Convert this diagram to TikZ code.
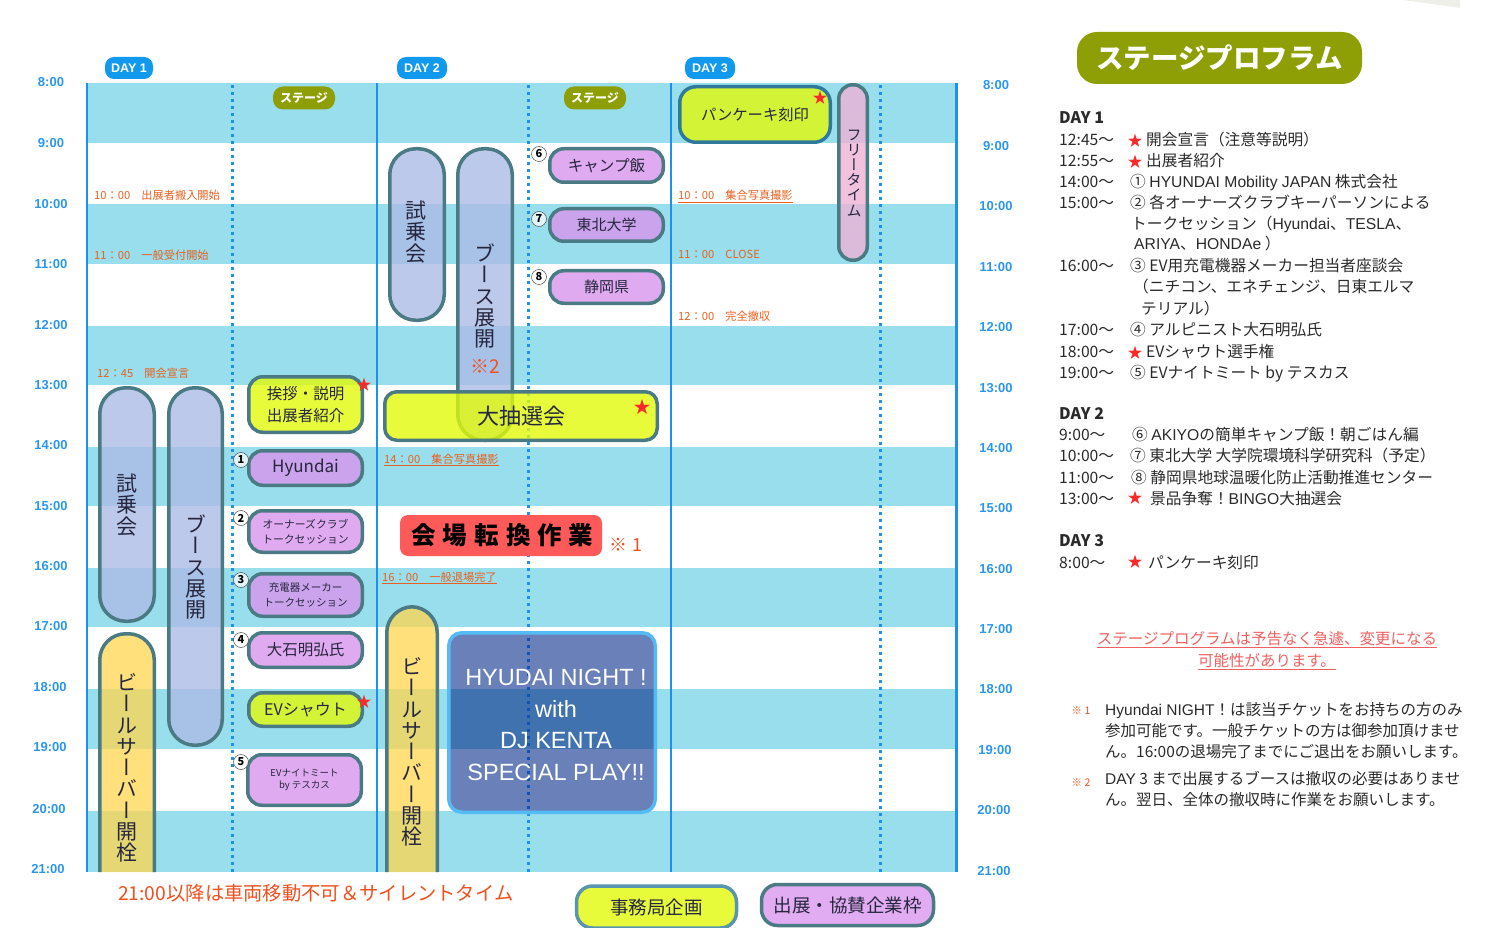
\documentclass[tikz,border=0pt]{standalone}
\usepackage{fontspec}
\setmainfont{Noto Sans CJK JP}
\newfontfamily\jpv[RawFeature=+vert]{Noto Sans CJK JP}
\newfontfamily\lat{Liberation Sans}
\newcommand{\fs}[1]{\fontsize{#1}{#1}\selectfont}
\lineskiplimit=-60pt
\definecolor{bandblue}{HTML}{99DEEC}
\definecolor{lineblue}{HTML}{1E90F0}
\definecolor{timeblue}{HTML}{2A96F0}
\definecolor{daypill}{HTML}{1199EE}
\definecolor{stageolive}{HTML}{8E9E05}
\definecolor{rimteal}{HTML}{4A7A84}
\definecolor{rimblue}{HTML}{2F7A9A}
\definecolor{testblue}{HTML}{ACBBE6}
\definecolor{beeryellow}{HTML}{FFD54D}
\definecolor{lottoyellow}{HTML}{E2FA09}
\definecolor{keyyellow}{HTML}{E8FB3A}
\definecolor{talkpurple}{HTML}{D895EC}
\definecolor{keypurple}{HTML}{E2ACF2}
\definecolor{freepink}{HTML}{EDB2D6}
\definecolor{noteorange}{HTML}{E8601E}
\definecolor{alertred}{HTML}{F0501E}
\definecolor{starred}{HTML}{FA2A2A}
\definecolor{swapred}{HTML}{FF5A5A}
\definecolor{nightblue}{HTML}{072B89}
\definecolor{nightrim}{HTML}{55BBF5}
\definecolor{inkdark}{HTML}{26263E}
\definecolor{bodyink}{HTML}{2A2A2A}
\definecolor{warnpink}{HTML}{F06060}
\definecolor{cornergrey}{HTML}{EFEFEA}
\tikzset{
  pill/.style={draw=rimteal, line width=3.5pt, fill opacity=.8, text opacity=1, text=inkdark, inner sep=0pt, align=center},
  testpill/.style={pill, fill=testblue, rounded corners=26pt},
  talkbox/.style={pill, fill=talkpurple, rounded corners=14pt, minimum width=113.5pt},
  lottobox/.style={pill, fill=lottoyellow, rounded corners=14pt},
  beerpill/.style={draw=rimteal, line width=3.5pt, fill=beeryellow, fill opacity=.75, rounded corners=26pt},
  vtext/.style={inner sep=0pt, align=center, text=inkdark, font=\jpv\fontsize{21}{21.3}\selectfont},
  timelab/.style={inner sep=0pt, text=timeblue, font=\lat\bfseries\fs{13}},
  daylab/.style={fill=daypill, text=white, rounded corners=9pt, inner sep=0pt, minimum height=22pt, font=\lat\bfseries\fs{12.5}},
  stagelab/.style={fill=stageolive, text=white, rounded corners=10pt, inner sep=0pt, minimum width=62pt, minimum height=23pt, font=\bfseries\fs{12}},
  notelab/.style={anchor=base west, inner sep=0pt, text=noteorange, font=\fs{11.2}},
  numdot/.style={circle, draw=black!70, fill=white, fill opacity=.7, text opacity=1, line width=.5pt, inner sep=0pt, minimum size=15pt, font=\bfseries\fs{11}},
  redstar/.style={inner sep=0pt, text=starred, font=\fs{15}},
  progline/.style={anchor=base west, inner sep=0pt, text=bodyink, font=\fs{15.7}},
  footline/.style={anchor=base west, inner sep=0pt, text=bodyink, font=\fs{15.5}},
}
\begin{document}
\begin{tikzpicture}[x=1pt, y=-1pt]
\useasboundingbox (0,0) rectangle (1500,928);
\fill[cornergrey] (1403,0)--(1460,8)--(1460,0)--cycle;
% stripes
\fill[bandblue] (87,83) rectangle (956,143);
\fill[bandblue] (87,204) rectangle (956,264);
\fill[bandblue] (87,326) rectangle (956,385);
\fill[bandblue] (87,447) rectangle (956,506);
\fill[bandblue] (87,568) rectangle (956,627);
\fill[bandblue] (87,689) rectangle (956,749);
\fill[bandblue] (87,811) rectangle (956,872);
% day columns
\draw[lineblue, line width=2pt] (87,83)--(87,872);
\draw[lineblue, line width=2pt] (377,83)--(377,872);
\draw[lineblue, line width=2pt] (671,83)--(671,872);
\draw[lineblue, line width=3pt] (956,83)--(956,872);
\draw[lineblue, line width=3pt, dash pattern=on 3pt off 4pt] (232,85)--(232,872);
\draw[lineblue, line width=3pt, dash pattern=on 3pt off 4pt] (528,85)--(528,872);
\draw[lineblue, line width=3pt, dash pattern=on 3pt off 4pt] (880,85)--(880,872);
% hours, left
\node[timelab] (tl8) at (51,82) {8:00};
\node[timelab] (tl9) at (51,143) {9:00};
\node[timelab] (tl10) at (51,204) {10:00};
\node[timelab] (tl11) at (51,264) {11:00};
\node[timelab] (tl12) at (51,325) {12:00};
\node[timelab] (tl13) at (51,385) {13:00};
\node[timelab] (tl14) at (51,445) {14:00};
\node[timelab] (tl15) at (51,506) {15:00};
\node[timelab] (tl16) at (51,566) {16:00};
\node[timelab] (tl17) at (51,626) {17:00};
\node[timelab] (tl18) at (50,687) {18:00};
\node[timelab] (tl19) at (50,747) {19:00};
\node[timelab] (tl20) at (49,809) {20:00};
\node[timelab] (tl21) at (48,869) {21:00};
% hours, right
\node[timelab] (tr8) at (996,85) {8:00};
\node[timelab] (tr9) at (996,146) {9:00};
\node[timelab] (tr10) at (996,206) {10:00};
\node[timelab] (tr11) at (996,267) {11:00};
\node[timelab] (tr12) at (996,327) {12:00};
\node[timelab] (tr13) at (996,388) {13:00};
\node[timelab] (tr14) at (996,448) {14:00};
\node[timelab] (tr15) at (996,508) {15:00};
\node[timelab] (tr16) at (996,569) {16:00};
\node[timelab] (tr17) at (996,629) {17:00};
\node[timelab] (tr18) at (996,689) {18:00};
\node[timelab] (tr19) at (995,750) {19:00};
\node[timelab] (tr20) at (994,810) {20:00};
\node[timelab] (tr21) at (994,871) {21:00};
% headers
\node[daylab, minimum width=48pt] (day1) at (129,68) {DAY 1};
\node[daylab, minimum width=50pt] (day2) at (422,68) {DAY 2};
\node[daylab, minimum width=50pt] (day3) at (710,68) {DAY 3};
\node[stagelab] (stage1) at (304,98) {ステージ};
\node[stagelab] (stage2) at (595,98) {ステージ};
% day 1
\node[notelab] (n1000a) at (94,200) {10：00　出展者搬入開始};
\node[notelab] (n1100a) at (94,260) {11：00　一般受付開始};
\node[notelab] (n1245) at (97,377) {12：45　開会宣言};
\node[testpill, minimum width=54.5pt, minimum height=233.5pt] (testA) at (127,504.5) {};
\node[vtext] (testAt) at (127,505) {試\\乗\\会};
\node[testpill, minimum width=53.5pt, minimum height=357.5pt] (boothA) at (195.5,566.5) {};
\node[vtext] (boothAt) at (196,567) {ブ\\ー\\ス\\展\\開};
\draw[beerpill] (99.75,872)--(99.75,633.75)--(154.25,633.75)--(154.25,872);
\node[vtext] (beerAt) at (127,768) {ビ\\ー\\ル\\サ\\ー\\バ\\ー\\開\\栓};
\node[lottobox, minimum width=113.5pt, minimum height=55.5pt, font=\fs{15.5}] (greet) at (305.5,404.5) {挨拶・説明\\[6pt]出展者紹介};
\node[redstar] (starG) at (364,385) {★};
\node[talkbox, minimum height=34.5pt, font=\fs{17}] (hyundai) at (305.5,468) {Hyundai};
\node[talkbox, minimum height=41.5pt, font=\fs{10.8}] (owners) at (305.5,531.5) {オーナーズクラブ\\[4pt]トークセッション};
\node[talkbox, minimum height=42.5pt, font=\fs{10.5}] (charger) at (305.5,595) {充電器メーカー\\[4pt]トークセッション};
\node[talkbox, minimum height=34.5pt, font=\fs{15.5}] (oishi) at (305.5,650) {大石明弘氏};
\node[lottobox, minimum width=113.5pt, minimum height=33.5pt, font=\fs{16}] (shout) at (305.5,709.5) {EVシャウト};
\node[redstar] (starS) at (364,702) {★};
\node[talkbox, minimum height=50.5pt, font=\fs{9.5}] (evmeet) at (304.5,780) {EVナイトミート\\[3pt]by テスカス};
\node[numdot] (c1) at (241,460) {1};
\node[numdot] (c2) at (241,518) {2};
\node[numdot] (c3) at (241,580) {3};
\node[numdot] (c4) at (241,640) {4};
\node[numdot] (c5) at (241,762) {5};
% day 2
\node[testpill, minimum width=54.5pt, minimum height=171.5pt] (testB) at (417,234.5) {};
\node[vtext] (testBt) at (416,232) {試\\乗\\会};
\node[testpill, minimum width=54.5pt, minimum height=291.5pt] (boothB) at (485,294.5) {};
\node[vtext] (boothBt) at (485,296) {ブ\\ー\\ス\\展\\開};
\node[inner sep=0pt, text=alertred, font=\fs{19}] (mark2) at (485,366) {※2};
\node[lottobox, minimum width=272.5pt, minimum height=48.5pt, rounded corners=12pt, font=\fs{22}] (lotto) at (521,416) {\raisebox{-2pt}{大抽選会}};
\node[redstar, font=\fs{17}] (starL) at (642,407) {★};
\node[talkbox, minimum height=33.5pt, font=\fs{15.5}] (camp) at (606.5,165.5) {キャンプ飯};
\node[talkbox, minimum height=32.5pt, font=\fs{15}] (tohoku) at (606.5,225) {東北大学};
\node[talkbox, minimum height=32.5pt, font=\fs{15}] (shizuoka) at (606.5,287) {静岡県};
\node[numdot] (c6) at (539,154) {6};
\node[numdot] (c7) at (539,219) {7};
\node[numdot] (c8) at (539,277) {8};
\node[notelab] (n1400) at (384,463) {\underline{14：00　集合写真撮影}};
\node[notelab] (n1600) at (382,581) {\underline{16：00　一般退場完了}};
\node[fill=swapred, rounded corners=8pt, inner sep=0pt, minimum width=202pt, minimum height=41pt, font=\bfseries\fs{24.5}] (swap) at (501,535.5) {\hspace{3pt}会\hspace{7pt}場\hspace{7pt}転\hspace{7pt}換\hspace{7pt}作\hspace{7pt}業};
\node[inner sep=0pt, text=alertred, font=\fs{18}] (mark1) at (626,545) {※ 1};
\draw[beerpill] (386.75,872)--(386.75,606.75)--(437.25,606.75)--(437.25,872);
\node[vtext] (beerBt) at (412,752) {ビ\\ー\\ル\\サ\\ー\\バ\\ー\\開\\栓};
\node[draw=nightrim, line width=3.5pt, fill=nightblue, fill opacity=.6, rounded corners=13pt, inner sep=0pt, minimum width=206.5pt, minimum height=179.5pt] (night) at (552,722.5) {};
\node[text=white, inner sep=0pt, align=center, font=\lat\fontsize{23.5}{31.5}\selectfont] (nightt) at (556,725) {HYUDAI NIGHT !\hspace{9pt}\\with\\DJ KENTA\\SPECIAL PLAY!!};
% day 3
\node[lottobox, minimum width=150.5pt, minimum height=55.5pt, rounded corners=16pt, font=\fs{15.3}, draw=rimblue] (pancake) at (755,114.5) {パンケーキ刻印};
\node[redstar] (starP) at (820,98) {★};
\node[pill, fill=freepink, minimum width=28.5pt, minimum height=175.5pt, rounded corners=14pt] (free) at (853,172.5) {};
\node[vtext, font=\jpv\fontsize{15}{15.2}\selectfont] (freet) at (854,173) {フ\\リ\\ー\\タ\\イ\\ム};
\node[notelab] (n1000c) at (678,200) {\underline{10：00　集合写真撮影}};
\node[notelab] (n1100c) at (678,259) {11：00　CLOSE};
\node[notelab] (n1200c) at (678,320) {12：00　完全撤収};
% under the chart
\node[anchor=base west, inner sep=0pt, text=alertred, font=\fs{19.3}] (curfew) at (118,900) {21:00以降は車両移動不可＆サイレントタイム};
\node[lottobox, minimum width=160pt, minimum height=42pt, rounded corners=16pt, draw=rimblue!80, fill=keyyellow, fill opacity=1, font=\fs{18.5}] (keyhq) at (656.5,907) {\raisebox{-1pt}{事務局企画}};
\node[talkbox, minimum width=172pt, minimum height=41pt, rounded corners=16pt, fill opacity=1, fill=keypurple, font=\fs{18.5}] (keyex) at (847.5,905) {出展・協賛企業枠};
% programme
\node[fill=stageolive, text=white, rounded corners=20pt, inner sep=0pt, minimum width=285pt, minimum height=52pt, font=\bfseries\fs{27.5}] (progtitle) at (1219.5,58) {\raisebox{-1.5pt}{ステージプロフラム}};
\node[progline, font=\bfseries\fs{16}] (p1) at (1059,124) {DAY 1};
\node[progline] (p2) at (1059,146) {12:45～};
\node[redstar] (p2s) at (1135,141) {★};
\node[progline] (p2t) at (1146,146) {開会宣言（注意等説明）};
\node[progline] (p3) at (1059,167) {12:55～};
\node[redstar] (p3s) at (1135,162) {★};
\node[progline] (p3t) at (1146,167) {出展者紹介};
\node[progline] (p4) at (1059,188) {14:00～};
\node[progline] (p4t) at (1130,188) {① {\lat HYUNDAI  Mobility JAPAN} 株式会社};
\node[progline] (p5) at (1059,209) {15:00～};
\node[progline] (p5t) at (1130,209) {② 各オーナーズクラブキーパーソンによる};
\node[progline] (p5u) at (1131,230) {トークセッション（{\lat Hyundai}、{\lat TESLA}、};
\node[progline] (p5v) at (1134,250) {{\lat ARIYA}、{\lat HONDAe} ）};
\node[progline] (p6) at (1059,272) {16:00～};
\node[progline] (p6t) at (1130,272) {③ EV用充電機器メーカー担当者座談会};
\node[progline] (p6u) at (1133,293) {（ニチコン、エネチェンジ、日東エルマ};
\node[progline] (p6v) at (1141,314) {テリアル）};
\node[progline] (p7) at (1059,335) {17:00～};
\node[progline] (p7t) at (1130,335) {④ アルピニスト大石明弘氏};
\node[progline] (p8) at (1059,357) {18:00～};
\node[redstar] (p8s) at (1135,353) {★};
\node[progline] (p8t) at (1146,357) {EVシャウト選手権};
\node[progline] (p9) at (1059,378) {19:00～};
\node[progline] (p9t) at (1130,378) {⑤ EVナイトミート by テスカス};
\node[progline, font=\bfseries\fs{16}] (q1) at (1059,419) {DAY 2};
\node[progline] (q2) at (1059,440) {9:00～};
\node[progline] (q2t) at (1132,440) {⑥ {\lat AKIYO}の簡単キャンプ飯！朝ごはん編};
\node[progline] (q3) at (1059,461) {10:00～};
\node[progline] (q3t) at (1130,461) {⑦ 東北大学 大学院環境科学研究科（予定）};
\node[progline] (q4) at (1059,483) {11:00～};
\node[progline] (q4t) at (1131,483) {⑧ 静岡県地球温暖化防止活動推進センター};
\node[progline] (q5) at (1059,504) {13:00～};
\node[redstar] (q5s) at (1135,498) {★};
\node[progline] (q5t) at (1150,504) {景品争奪！{\lat BINGO}大抽選会};
\node[progline, font=\bfseries\fs{16}] (r1) at (1059,546) {DAY 3};
\node[progline] (r2) at (1059,568) {8:00～};
\node[redstar] (r2s) at (1135,562) {★};
\node[progline] (r2t) at (1148,568) {パンケーキ刻印};
% notices
\node[inner sep=0pt, text=warnpink, font=\fs{15.5}] (warn1) at (1267,640) {\underline{ステージプログラムは予告なく急遽、変更になる}};
\node[inner sep=0pt, text=warnpink, font=\fs{15.5}] (warn2) at (1267,662) {\underline{可能性があります。}};
\node[inner sep=0pt, text=alertred, font=\fs{10.5}] (f1) at (1081,711) {※ 1};
\node[footline] (f1a) at (1105,715) {{\lat Hyundai NIGHT}！は該当チケットをお持ちの方のみ};
\node[footline] (f1b) at (1105,736) {参加可能です。一般チケットの方は御参加頂けませ};
\node[footline] (f1c) at (1105,757) {ん。16:00の退場完了までにご退出をお願いします。};
\node[inner sep=0pt, text=alertred, font=\fs{10.5}] (f2) at (1081,783) {※ 2};
\node[footline] (f2a) at (1105,784) {{\lat DAY} 3 まで出展するブースは撤収の必要はありませ};
\node[footline] (f2b) at (1105,805) {ん。翌日、全体の撤収時に作業をお願いします。};
\end{tikzpicture}
\end{document}
